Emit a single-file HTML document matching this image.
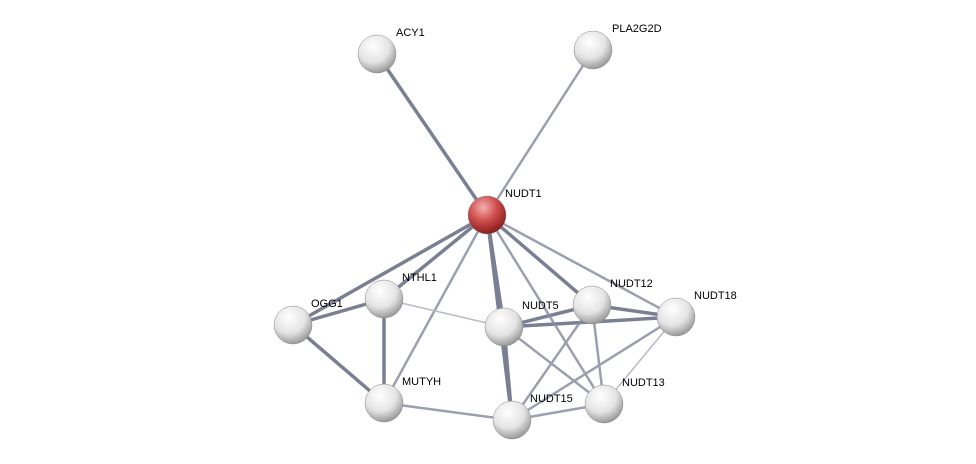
<!DOCTYPE html>
<html><head><meta charset="utf-8"><style>
html,body{margin:0;padding:0;background:#fff;width:976px;height:464px;overflow:hidden}
text{font-family:"Liberation Sans",sans-serif;font-size:11px;fill:#000}
</style></head><body>
<svg width="976" height="464" xmlns="http://www.w3.org/2000/svg">
<defs>
<radialGradient id="g" cx="40%" cy="30%" r="70%"><stop offset="0" stop-color="#ffffff"/><stop offset="0.6" stop-color="#e4e4e4"/><stop offset="1" stop-color="#9a9a9a"/></radialGradient>
<radialGradient id="r" cx="40%" cy="30%" r="70%"><stop offset="0" stop-color="#f4b0b0"/><stop offset="0.5" stop-color="#d05050"/><stop offset="1" stop-color="#8a1c1c"/></radialGradient>
</defs>
<g stroke-linecap="round">
<g stroke="#6d7288" stroke-width="3.5" opacity="0.9">
<line x1="487" y1="215" x2="377" y2="54"/>
<line x1="487" y1="215" x2="293" y2="325"/>
<line x1="487" y1="215" x2="384" y2="299"/>
<line x1="487" y1="215" x2="504" y2="327"/>
<line x1="487" y1="215" x2="512" y2="420"/>
<line x1="487" y1="215" x2="592" y2="305"/>
<line x1="293" y1="325" x2="384" y2="299"/>
<line x1="293" y1="325" x2="384" y2="403"/>
<line x1="384" y1="299" x2="384" y2="403"/>
<line x1="504" y1="327" x2="592" y2="305"/>
<line x1="504" y1="327" x2="676" y2="317"/>
<line x1="504" y1="327" x2="512" y2="420"/>
<line x1="592" y1="305" x2="676" y2="317"/>
</g>
<g stroke="#8a8fa3" stroke-width="2.5" opacity="0.85">
<line x1="487" y1="215" x2="593" y2="50"/>
<line x1="487" y1="215" x2="384" y2="403"/>
<line x1="487" y1="215" x2="676" y2="317"/>
<line x1="487" y1="215" x2="604" y2="404"/>
<line x1="504" y1="327" x2="604" y2="404"/>
<line x1="592" y1="305" x2="512" y2="420"/>
<line x1="592" y1="305" x2="604" y2="404"/>
<line x1="676" y1="317" x2="512" y2="420"/>
<line x1="384" y1="403" x2="512" y2="420"/>
<line x1="512" y1="420" x2="604" y2="404"/>
</g>
<g stroke="#b8bac8" stroke-width="1.5">
<line x1="384" y1="299" x2="504" y2="327"/>
<line x1="676" y1="317" x2="604" y2="404"/>
</g>
</g>
<g stroke="#888" stroke-width="0.5">
<circle cx="377" cy="54" r="19" fill="url(#g)"/>
<circle cx="593" cy="50" r="19" fill="url(#g)"/>
<circle cx="487" cy="215" r="19" fill="url(#r)"/>
<circle cx="384" cy="299" r="19" fill="url(#g)"/>
<circle cx="293" cy="325" r="19" fill="url(#g)"/>
<circle cx="504" cy="327" r="19" fill="url(#g)"/>
<circle cx="592" cy="305" r="19" fill="url(#g)"/>
<circle cx="676" cy="317" r="19" fill="url(#g)"/>
<circle cx="384" cy="403" r="19" fill="url(#g)"/>
<circle cx="512" cy="420" r="19" fill="url(#g)"/>
<circle cx="604" cy="404" r="19" fill="url(#g)"/>
</g>
<text x="396" y="36">ACY1</text>
<text x="612" y="32">PLA2G2D</text>
<text x="505" y="197">NUDT1</text>
<text x="402" y="281">NTHL1</text>
<text x="311" y="307">OGG1</text>
<text x="522" y="309">NUDT5</text>
<text x="610" y="287">NUDT12</text>
<text x="694" y="299">NUDT18</text>
<text x="402" y="385">MUTYH</text>
<text x="530" y="402">NUDT15</text>
<text x="622" y="386">NUDT13</text>
</svg>
</body></html>
